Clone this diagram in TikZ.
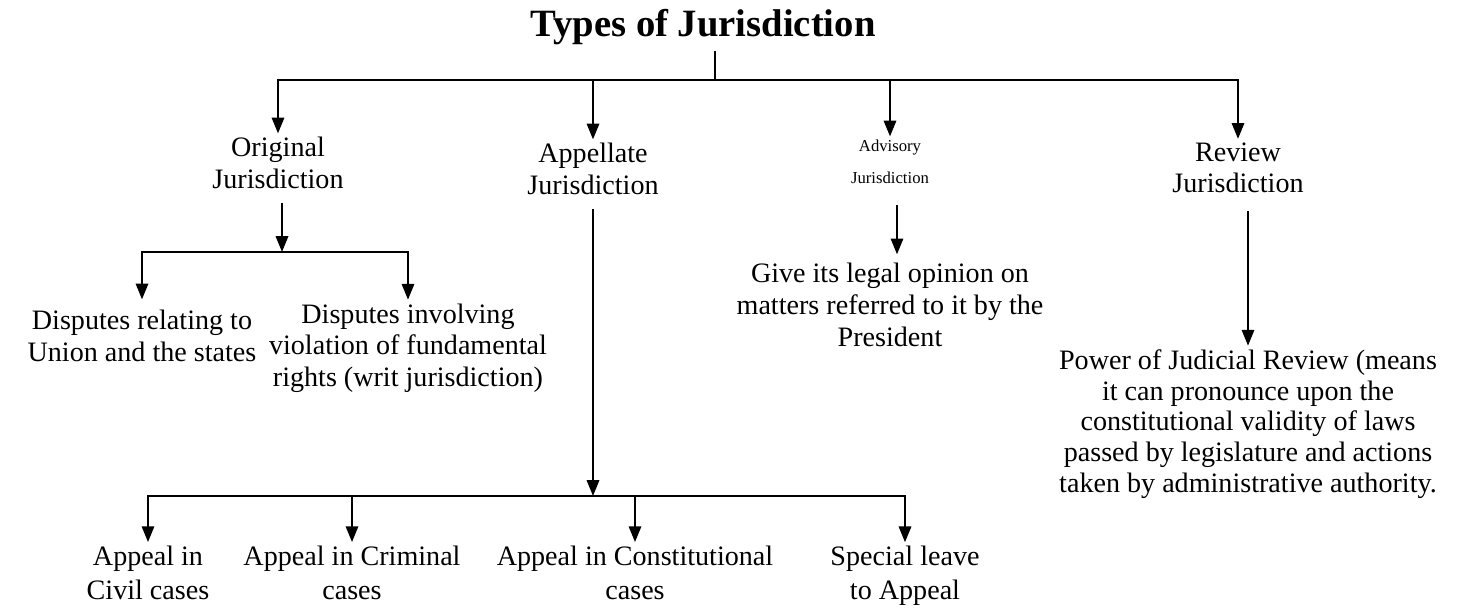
\documentclass[tikz,border=0pt]{standalone}
\usepackage{fontspec}
\setmainfont{Liberation Serif}
\usetikzlibrary{arrows.meta,positioning}

\begin{document}
\begin{tikzpicture}[
  x=0.02cm, y=-0.02cm,
  txt/.style={align=center, font=\fontsize{16}{18}\selectfont, inner sep=2pt},
  small/.style={align=center, font=\fontsize{9.5}{18}\selectfont, inner sep=2pt},
  line/.style={line width=1.3pt},
  arr/.style={-{Triangle[width=7pt,length=9pt]}, line width=1.3pt}
]
\useasboundingbox (0,0) rectangle (1463,608);

\node[font=\fontsize{22}{26}\selectfont\bfseries] (title) at (703,27) {Types of Jurisdiction};
\coordinate (top) at (715,80);

\node[txt] (orig) at (278,163) {Original\\Jurisdiction};
\node[txt] (appel) at (593,169) {Appellate\\Jurisdiction};
\node[small] (advis) at (890,162) {Advisory\\Jurisdiction};
\node[txt] (review) at (1238,168) {Review\\Jurisdiction};

% original jurisdiction
\coordinate (obar) at (282,252);
\node[txt] (disp1) at (142,336) {Disputes relating to\\Union and the states};
\node[txt] (disp2) at (408,348) {Disputes involving\\violation of fundamental\\rights (writ jurisdiction)};

% appellate jurisdiction
\coordinate (abar) at (593,496);
\node[txt, font=\fontsize{16}{19.5}\selectfont] (civil) at (148,573) {Appeal in\\Civil cases};
\node[txt, font=\fontsize{16}{19.5}\selectfont] (crim) at (352,573) {Appeal in Criminal\\cases};
\node[txt, font=\fontsize{16}{19.5}\selectfont] (const) at (635,573) {Appeal in Constitutional\\cases};
\node[txt, font=\fontsize{16}{19.5}\selectfont] (leave) at (905,576) {Special leave\\to Appeal};

% advisory and review
\node[txt] (opinion) at (890,305) {Give its legal opinion on\\matters referred to it by the\\President};
\node[txt, font=\fontsize{16}{17.5}\selectfont] (power) at (1248,424) {Power of Judicial Review (means\\it can pronounce upon the\\constitutional validity of laws\\passed by legislature and actions\\taken by administrative authority.};

\draw[line] (title.south -| top) -- (top);
\draw[arr] (top) -| (orig);
\draw[arr] (top) -| (appel);
\draw[arr] (top) -| (advis);
\draw[arr] (top) -| (review);

\draw[arr, shorten <=6pt] (orig.south -| obar) -- (obar);
\draw[arr, shorten >=4pt] (obar) -| (disp1);
\draw[arr] (obar) -| (disp2);

\draw[arr, shorten <=6pt] (appel) -- (abar);
\draw[arr] (abar) -| (civil);
\draw[arr] (abar) -| (crim);
\draw[arr] (abar) -| (const);
\draw[arr] (abar) -| (leave);

\draw[arr, shorten <=10pt, shorten >=3pt] (advis.south -| 897,0) -- (opinion.north -| 897,0);
\draw[arr, shorten <=8pt] (review.south -| power) -- (power);

\end{tikzpicture}
\end{document}
